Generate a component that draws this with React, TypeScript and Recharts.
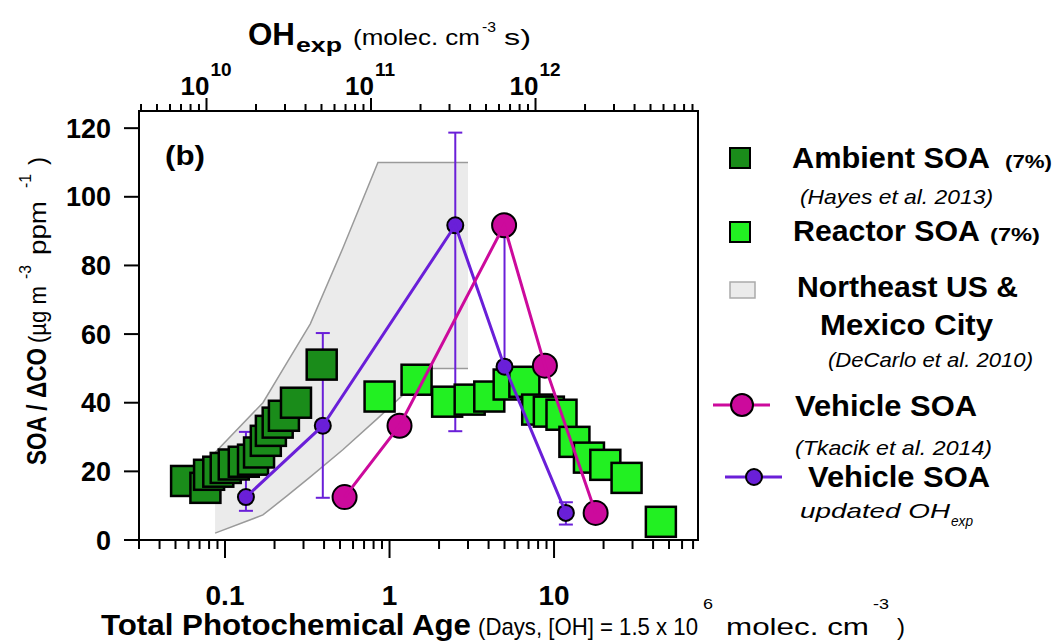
import React from "react";
import {
  ComposedChart,
  XAxis,
  YAxis,
  Scatter,
  Line,
  Area,
  ErrorBar,
  ReferenceArea,
} from "recharts";

// photochemical age (days) and SOA / dCO values
const ambientAge = [0.058, 0.076, 0.08, 0.091, 0.101, 0.113, 0.13, 0.148, 0.161, 0.177, 0.19, 0.209, 0.228, 0.27, 0.387];
const ambientSoa = [17.2, 15.2, 19.0, 19.9, 21.0, 22.0, 22.8, 23.4, 25.5, 28.9, 31.8, 34.2, 36.2, 40.0, 51.1];

const reactorAge = [0.87, 1.46, 2.24, 3.07, 4.04, 5.3, 6.6, 7.9, 9.3, 11.1, 13.3, 16.3, 20.5, 27.6, 44.6];
const reactorSoa = [41.8, 46.7, 40.3, 40.9, 41.8, 45.3, 46.1, 38.0, 37.4, 36.5, 28.6, 24.0, 21.9, 18.1, 5.3];

const vehicleAge = [0.533, 1.15, 4.97, 8.8, 17.9];
const vehicleSoa = [12.5, 33.3, 91.7, 50.8, 7.9];

const updatedAge = [0.134, 0.393, 2.51, 5.0, 11.8];
const updatedSoa = [12.5, 33.3, 91.7, 50.5, 7.9];
const updatedErrLow = [4, 21, 60, 0, 3.4];
const updatedErrHigh = [19, 27, 27, 41, 3.1];

// Northeast US & Mexico City range (DeCarlo et al. 2010)
const bandAge = [0.087, 0.17, 0.24, 0.33, 0.52, 0.85, 1.8, 3.0];
const bandLow = [2, 7.3, 13, 18.4, 26.3, 35.5, 50, 50];
const bandHigh = [25.5, 40, 52, 63, 85, 110, 110, 110];

const bottomTicks = [
  0.03, 0.04, 0.05, 0.06, 0.07, 0.08, 0.09,
  0.1, 0.2, 0.3, 0.4, 0.5, 0.6, 0.7, 0.8, 0.9,
  1, 2, 3, 4, 5, 6, 7, 8, 9,
  10, 20, 30, 40, 50, 60, 70,
];
const bottomMajor = [0.1, 1, 10];
const bottomLabels = ["0.1", "1", "10"];

const topTicks = [
  4e9, 5e9, 6e9, 7e9, 8e9, 9e9,
  1e10, 2e10, 3e10, 4e10, 5e10, 6e10, 7e10, 8e10, 9e10,
  1e11, 2e11, 3e11, 4e11, 5e11, 6e11, 7e11, 8e11, 9e11,
  1e12, 2e12, 3e12, 4e12, 5e12, 6e12, 7e12, 8e12, 9e12,
];
const topMajor = [1e10, 1e11, 1e12];
const topExp = ["10", "11", "12"];

const yTicks = [0, 20, 40, 60, 80, 100, 120];

const OH_PER_DAY = 1.5e6 * 86400;
const AGE_DOMAIN = [0.03, 75];
const PLOT_TOP = 111;
const PLOT_BOTTOM = 540;

const ambientData = ambientAge.map((a, i) => ({ age: a, soa: ambientSoa[i] }));
const reactorData = reactorAge.map((a, i) => ({ age: a, soa: reactorSoa[i] }));
const vehicleData = vehicleAge.map((a, i) => ({ age: a, soa: vehicleSoa[i] }));
const updatedData = updatedAge.map((a, i) => ({
  age: a,
  soa: updatedSoa[i],
  err: [updatedErrLow[i], updatedErrHigh[i]],
}));
const bandData = bandAge.map((a, i) => ({ age: a, range: [bandLow[i], bandHigh[i]] }));
// anchors the OH exposure axis so it gets drawn
const topAnchor = topMajor.map((v) => ({ oh: v, soa: 0 }));

const FONT = "'Liberation Sans', Arial, sans-serif";
const DARK_GREEN = "#1a8c1a";
const LIGHT_GREEN = "#22f022";
const MAGENTA = "#cc0a9c";
const PURPLE = "#6a1fd8";

const Square = (props: any) => {
  const { cx, cy, fill } = props;
  return <rect x={cx - 15} y={cy - 15} width={30} height={30} fill={fill} stroke="#000" strokeWidth={2.5} />;
};

const BottomTick = (props: any) => {
  const { x, payload } = props;
  const idx = bottomMajor.indexOf(payload.value);
  const major = idx >= 0;
  const y = PLOT_BOTTOM;
  return (
    <g>
      <line x1={x} x2={x} y1={y} y2={y + (major ? 18 : 9)} stroke="#000" strokeWidth={2} />
      {major && (
        <text x={x} y={605} textAnchor="middle" fontSize={28} fontWeight="bold" fontFamily={FONT} fill="#000">
          {bottomLabels[idx]}
        </text>
      )}
    </g>
  );
};

const TopTick = (props: any) => {
  const { x, payload } = props;
  const idx = topMajor.indexOf(payload.value);
  const major = idx >= 0;
  const y = PLOT_TOP;
  return (
    <g>
      <line x1={x} x2={x} y1={y} y2={y - (major ? 13 : 7)} stroke="#000" strokeWidth={2} />
      {major && (
        <g fontFamily={FONT} fontWeight="bold" fill="#000">
          <text x={x + 3} y={95} textAnchor="end" fontSize={26}>10</text>
          <text x={x + 4} y={76} fontSize={19}>{topExp[idx]}</text>
        </g>
      )}
    </g>
  );
};

function Overlay() {
  const t = { fontFamily: FONT, fill: "#000", lengthAdjust: "spacingAndGlyphs" as const };
  return (
    <svg width={1056} height={644} style={{ position: "absolute", left: 0, top: 0, pointerEvents: "none" }}>
      {/* top axis title */}
      <text {...t} x={248} y={45} fontSize={31} fontWeight="bold" textLength={47}>OH</text>
      <text {...t} x={296} y={52} fontSize={20} fontWeight="bold" textLength={46}>exp</text>
      <text {...t} x={353} y={45} fontSize={22} textLength={127}>(molec. cm</text>
      <text {...t} x={482} y={32} fontSize={15} textLength={14}>-3</text>
      <text {...t} x={504} y={45} fontSize={22} textLength={27}>s)</text>

      {/* bottom axis title */}
      <text {...t} x={101} y={635} fontSize={29} fontWeight="bold" textLength={370}>Total Photochemical Age</text>
      <text {...t} x={478} y={635} fontSize={24} textLength={220}>(Days, [OH] = 1.5 x 10</text>
      <text {...t} x={703} y={609} fontSize={15} textLength={10}>6</text>
      <text {...t} x={726} y={635} fontSize={24} textLength={143}>molec. cm</text>
      <text {...t} x={873} y={609} fontSize={15} textLength={16}>-3</text>
      <text {...t} x={897} y={635} fontSize={24} textLength={8}>)</text>

      {/* y axis title */}
      <g transform="translate(46,465) rotate(-90)">
        <text {...t} x={0} y={0} fontSize={27} fontWeight="bold" textLength={117}>SOA / ΔCO</text>
        <text {...t} x={122} y={0} fontSize={23} textLength={57}>(µg m</text>
        <text {...t} x={186} y={-15} fontSize={16} textLength={14}>-3</text>
        <text {...t} x={210} y={0} fontSize={23} textLength={54}>ppm</text>
        <text {...t} x={277} y={-15} fontSize={16} textLength={14}>-1</text>
        <text {...t} x={300} y={0} fontSize={23} textLength={8}>)</text>
      </g>

      {/* panel label */}
      <text {...t} x={165} y={165} fontSize={28} fontWeight="bold" textLength={40}>(b)</text>

      {/* legend */}
      <rect x={730} y={148} width={20} height={20} fill={DARK_GREEN} stroke="#000" strokeWidth={2} />
      <text {...t} x={792} y={168} fontSize={29} fontWeight="bold" textLength={198}>Ambient SOA</text>
      <text {...t} x={1005} y={168} fontSize={18} fontWeight="bold" textLength={47}>(7%)</text>
      <text {...t} x={800} y={204} fontSize={21} fontStyle="italic" textLength={193}>(Hayes et al. 2013)</text>

      <rect x={730} y={222} width={20} height={20} fill={LIGHT_GREEN} stroke="#000" strokeWidth={2} />
      <text {...t} x={793} y={241} fontSize={29} fontWeight="bold" textLength={187}>Reactor SOA</text>
      <text {...t} x={990} y={241} fontSize={18} fontWeight="bold" textLength={50}>(7%)</text>

      <rect x={730} y={282} width={25} height={16} fill="#ebebeb" stroke="#aaa" strokeWidth={1.5} />
      <text {...t} x={797} y={297} fontSize={29} fontWeight="bold" textLength={221}>Northeast US &amp;</text>
      <text {...t} x={820} y={335} fontSize={29} fontWeight="bold" textLength={173}>Mexico City</text>
      <text {...t} x={828} y={367} fontSize={21} fontStyle="italic" textLength={205}>(DeCarlo et al. 2010)</text>

      <line x1={713} x2={770} y1={405} y2={405} stroke={MAGENTA} strokeWidth={3} />
      <circle cx={742} cy={405} r={11} fill={MAGENTA} stroke="#000" strokeWidth={2} />
      <text {...t} x={795} y={416} fontSize={29} fontWeight="bold" textLength={182}>Vehicle SOA</text>
      <text {...t} x={795} y={455} fontSize={21} fontStyle="italic" textLength={197}>(Tkacik et al. 2014)</text>

      <line x1={725} x2={782} y1={477} y2={477} stroke={PURPLE} strokeWidth={3} />
      <circle cx={754} cy={477} r={8} fill={PURPLE} stroke="#000" strokeWidth={2} />
      <text {...t} x={808} y={487} fontSize={29} fontWeight="bold" textLength={182}>Vehicle SOA</text>
      <text {...t} x={800} y={518} fontSize={21} fontStyle="italic" textLength={150}>updated OH</text>
      <text {...t} x={951} y={526} fontSize={14} fontStyle="italic" textLength={22}>exp</text>
    </svg>
  );
}

export default function App() {
  return (
    <div style={{ position: "absolute", left: 0, top: 0, width: 1056, height: 644, background: "#fff" }}>
      <ComposedChart width={1056} height={644} margin={{ top: 51, right: 358, bottom: 0, left: 79 }}>
        <XAxis
          dataKey="age"
          type="number"
          scale="log"
          domain={AGE_DOMAIN}
          allowDataOverflow
          ticks={bottomTicks}
          interval={0}
          height={104}
          tickSize={0}
          tickMargin={0}
          tickLine={false}
          axisLine={{ stroke: "#000", strokeWidth: 2 }}
          tick={<BottomTick />}
        />
        <XAxis
          xAxisId="top"
          dataKey="oh"
          orientation="top"
          type="number"
          scale="log"
          domain={[AGE_DOMAIN[0] * OH_PER_DAY, AGE_DOMAIN[1] * OH_PER_DAY]}
          allowDataOverflow
          ticks={topTicks}
          interval={0}
          height={60}
          tickSize={0}
          tickMargin={0}
          tickLine={false}
          axisLine={{ stroke: "#000", strokeWidth: 2 }}
          tick={<TopTick />}
        />
        <YAxis
          type="number"
          domain={[0, 125]}
          allowDataOverflow
          ticks={yTicks}
          interval={0}
          width={60}
          tickSize={15}
          tickMargin={13}
          tickLine={{ stroke: "#000", strokeWidth: 2 }}
          axisLine={{ stroke: "#000", strokeWidth: 2 }}
          tick={{ fontSize: 27, fontWeight: "bold", fill: "#000", fontFamily: FONT }}
        />
        <Area
          data={bandData}
          dataKey="range"
          type="linear"
          fill="#ebebeb"
          fillOpacity={1}
          stroke="#9a9a9a"
          strokeWidth={1.5}
          isAnimationActive={false}
        />
        <Scatter
          xAxisId="top"
          data={topAnchor}
          dataKey="soa"
          shape={() => <g />}
          isAnimationActive={false}
        />
        <Scatter data={ambientData} dataKey="soa" fill={DARK_GREEN} shape={<Square />} isAnimationActive={false} />
        <Scatter data={reactorData} dataKey="soa" fill={LIGHT_GREEN} shape={<Square />} isAnimationActive={false} />
        <Line
          data={updatedData}
          dataKey="soa"
          type="linear"
          stroke={PURPLE}
          strokeWidth={3}
          dot={{ r: 8, fill: PURPLE, stroke: "#000", strokeWidth: 2, fillOpacity: 1 }}
          activeDot={false}
          isAnimationActive={false}
          zIndex={700}
        >
          <ErrorBar dataKey="err" direction="y" stroke={PURPLE} strokeWidth={2} width={7} />
        </Line>
        <Line
          data={vehicleData}
          dataKey="soa"
          type="linear"
          stroke={MAGENTA}
          strokeWidth={3}
          dot={{ r: 12, fill: MAGENTA, stroke: "#000", strokeWidth: 2, fillOpacity: 1 }}
          activeDot={false}
          isAnimationActive={false}
          zIndex={710}
        />
        <ReferenceArea x1={AGE_DOMAIN[0]} x2={AGE_DOMAIN[1]} y1={0} y2={125} fill="none" stroke="#000" strokeWidth={2} />
      </ComposedChart>
      <Overlay />
    </div>
  );
}
